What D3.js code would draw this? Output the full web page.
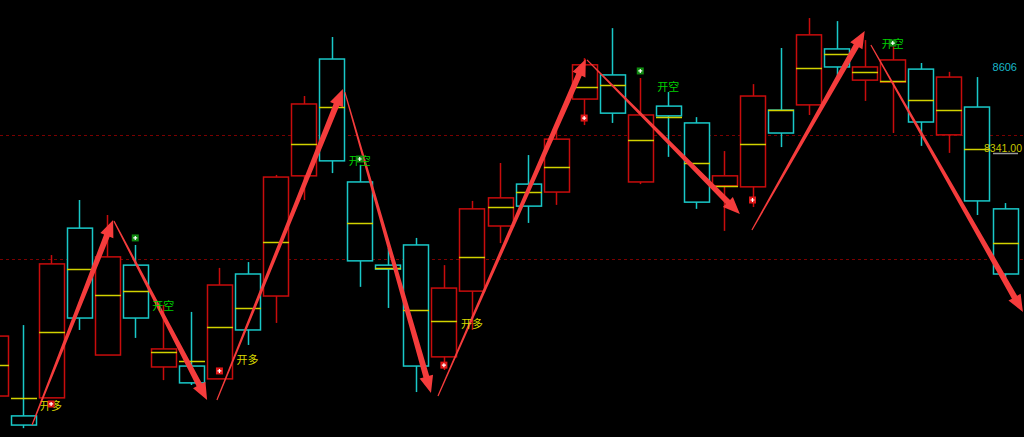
<!DOCTYPE html>
<html>
<head>
<meta charset="utf-8">
<script src="https://cdn.jsdelivr.net/npm/d3@7"></script>
<style>
  body { margin: 0; background: #000; overflow: hidden; }
</style>
</head>
<body>
<div class="chart"></div>
<script>
let width = 1024;
let height = 437;

// bar index -> ohlc, plus the yellow line in each bar
let bars = d3.range(37);
let open = [7530, 7465, 7524, 8079, 7664, 7958, 7625, 7628, 7586, 7929, 7857, 8250, 8632, 8230, 7958, 8024, 7658, 7873, 8086, 8223, 8197, 8501, 8580, 8230, 8478, 8423, 8217, 8214, 8465, 8482, 8665, 8563, 8557, 8599, 8384, 8475, 8142];
let close = [7726, 7435, 7962, 7785, 7985, 7785, 7684, 7573, 7893, 7746, 8246, 8485, 8299, 7972, 7945, 7628, 7883, 8142, 8178, 8151, 8370, 8613, 8455, 8449, 8446, 8164, 8250, 8511, 8390, 8711, 8606, 8606, 8629, 8426, 8573, 8168, 7929];
let high = [7746, 7762, 7991, 8171, 8122, 8024, 7828, 7805, 7949, 7968, 8253, 8511, 8704, 8286, 8014, 8047, 7958, 8168, 8292, 8318, 8400, 8635, 8733, 8570, 8524, 8442, 8331, 8550, 8668, 8766, 8756, 8694, 8678, 8619, 8590, 8573, 8161];
let low = [7517, 7425, 7524, 7746, 7664, 7720, 7582, 7566, 7586, 7697, 7769, 8171, 8259, 7887, 7818, 7543, 7615, 7746, 8030, 8096, 8155, 8416, 8423, 8223, 8312, 8142, 8070, 8148, 8344, 8449, 8563, 8495, 8390, 8348, 8325, 8122, 7909];
let avg = [7631, 7524, 7739, 7945, 7860, 7873, 7674, 7645, 7756, 7818, 8034, 8354, 8475, 8096, 7949, 7811, 7775, 7985, 8148, 8197, 8279, 8540, 8547, 8367, 8442, 8292, 8217, 8354, 8465, 8603, 8648, 8590, 8560, 8498, 8465, 8338, 8030];

// signals
let buyBars = [2, 8, 16, 21, 27];
let buyPrice = [7504, 7612, 7631, 8439, 8171];
let sellBars = [5, 13, 23, 32];
let sellPrice = [8047, 8305, 8593, 8684];

let longLabelBars = [2, 9, 17];
let longLabelPrice = [7497, 7648, 7766];
let shortLabelBars = [6, 13, 24, 32];
let shortLabelPrice = [7824, 8299, 8540, 8681];

// swing arrows: [fromBar, fromPrice, toBar, toPrice]
let arrows = [
  [1.32, 7435, 4.21, 8106],
  [4.24, 8102, 7.56, 7517],
  [7.91, 7517, 12.4, 8534],
  [12.47, 8524, 15.54, 7540],
  [15.79, 7530, 21.06, 8632],
  [21.1, 8629, 26.55, 8125],
  [26.98, 8073, 31.0, 8724],
  [31.22, 8678, 36.64, 7805],
];

let gridPrices = [8384, 7978];
let topPrice = 8606;
let lastPrice = 8341;

let svg = d3
  .select(".chart")
  .append("svg")
  .attr("width", width)
  .attr("height", height)
  .style("background", "#000");

let xScale = d3.scaleLinear().domain([0, 36]).range([-5, 1005]);
let yScale = d3.scaleLinear().domain([7396, 8825]).range([height, 0]);
let barW = 25;

let red = "#c80c0c";
let cyan = "#19c8c8";

// dashed grid
svg
  .selectAll(".grid")
  .data(gridPrices)
  .enter()
  .append("line")
  .attr("x1", 0)
  .attr("x2", width)
  .attr("y1", (d) => Math.round(yScale(d)) + 0.5)
  .attr("y2", (d) => Math.round(yScale(d)) + 0.5)
  .style("stroke", "#7a0000")
  .style("stroke-dasharray", "3,3");

let bar = svg
  .selectAll(".bar")
  .data(bars)
  .enter()
  .append("g")
  .attr("class", "bar");

let color = (i) => (close[i] >= open[i] ? red : cyan);

bar
  .append("line")
  .attr("x1", (i) => Math.round(xScale(i)) + 0.5)
  .attr("x2", (i) => Math.round(xScale(i)) + 0.5)
  .attr("y1", (i) => yScale(high[i]))
  .attr("y2", (i) => yScale(low[i]))
  .style("stroke", color)
  .style("stroke-width", 1.5);

bar
  .append("rect")
  .attr("x", (i) => Math.round(xScale(i) - barW / 2) + 0.5)
  .attr("y", (i) => yScale(Math.max(open[i], close[i])))
  .attr("width", barW)
  .attr("height", (i) => Math.max(1, Math.abs(yScale(open[i]) - yScale(close[i]))))
  .style("fill", "#000")
  .style("stroke", color)
  .style("stroke-width", 1.5);

bar
  .append("line")
  .attr("x1", (i) => Math.round(xScale(i) - barW / 2))
  .attr("x2", (i) => Math.round(xScale(i) + barW / 2) + 1)
  .attr("y1", (i) => Math.round(yScale(avg[i])) + 0.5)
  .attr("y2", (i) => Math.round(yScale(avg[i])) + 0.5)
  .style("stroke", "#d2d200")
  .style("stroke-width", 1.5);

// tapered arrows
function arrowPath(a) {
  let x0 = xScale(a[0]), y0 = yScale(a[1]);
  let x1 = xScale(a[2]), y1 = yScale(a[3]);
  let dx = x1 - x0, dy = y1 - y0;
  let len = Math.sqrt(dx * dx + dy * dy);
  let ux = dx / len, uy = dy / len;
  let nx = -uy, ny = ux;
  let L = 17, hw = 7, w1 = 3, w0 = 0.6;
  let bx = x1 - ux * L, by = y1 - uy * L;
  let pts = [
    [x0 + nx * w0, y0 + ny * w0],
    [bx + nx * w1, by + ny * w1],
    [bx + nx * hw, by + ny * hw],
    [x1, y1],
    [bx - nx * hw, by - ny * hw],
    [bx - nx * w1, by - ny * w1],
    [x0 - nx * w0, y0 - ny * w0],
  ];
  return "M" + pts.map((p) => p.join(",")).join("L") + "Z";
}

svg
  .selectAll(".arrow")
  .data(arrows)
  .enter()
  .append("path")
  .attr("d", arrowPath)
  .style("fill", "#f53c3c");

// labels
let cjk = "'Noto Sans CJK SC', sans-serif";
svg
  .selectAll(".long")
  .data(longLabelBars)
  .enter()
  .append("text")
  .attr("x", (d) => xScale(d))
  .attr("y", (d, i) => yScale(longLabelPrice[i]) + 4)
  .attr("text-anchor", "middle")
  .style("font-family", cjk)
  .style("font-size", "11px")
  .style("fill", "#d8d800")
  .text("开多");

svg
  .selectAll(".short")
  .data(shortLabelBars)
  .enter()
  .append("text")
  .attr("x", (d) => xScale(d))
  .attr("y", (d, i) => yScale(shortLabelPrice[i]) + 4)
  .attr("text-anchor", "middle")
  .style("font-family", cjk)
  .style("font-size", "11px")
  .style("fill", "#00d000")
  .text("开空");

// signal markers
function marker(sel, fill) {
  sel
    .append("rect")
    .attr("x", -3.5)
    .attr("y", -3.5)
    .attr("width", 7)
    .attr("height", 7)
    .style("fill", fill);
  sel
    .append("path")
    .attr("d", "M-2,0H2M0,-2V2")
    .style("stroke", "#fff")
    .style("stroke-width", 1.2);
}

svg
  .selectAll(".buy")
  .data(buyBars)
  .enter()
  .append("g")
  .attr("transform", (d, i) => `translate(${xScale(d)}, ${yScale(buyPrice[i])})`)
  .call(marker, "#e01818");

svg
  .selectAll(".sell")
  .data(sellBars)
  .enter()
  .append("g")
  .attr("transform", (d, i) => `translate(${xScale(d)}, ${yScale(sellPrice[i])})`)
  .call(marker, "#108a10");

// price tags on the right
svg
  .append("text")
  .attr("x", 1017)
  .attr("y", yScale(topPrice) + 4)
  .attr("text-anchor", "end")
  .style("font-family", "'Liberation Sans', sans-serif")
  .style("font-size", "11px")
  .style("fill", "#19b8c8")
  .text(topPrice);

svg
  .append("text")
  .attr("x", 1022)
  .attr("y", yScale(lastPrice) + 4)
  .attr("text-anchor", "end")
  .style("font-family", "'Liberation Sans', sans-serif")
  .style("font-size", "10.5px")
  .style("fill", "#c8c800")
  .text(lastPrice.toFixed(2));

svg
  .append("line")
  .attr("x1", 993)
  .attr("x2", 1018)
  .attr("y1", yScale(lastPrice) + 5.5)
  .attr("y2", yScale(lastPrice) + 5.5)
  .style("stroke", "#9a9a9a")
  .style("stroke-width", 1.5);
</script>
</body>
</html>
